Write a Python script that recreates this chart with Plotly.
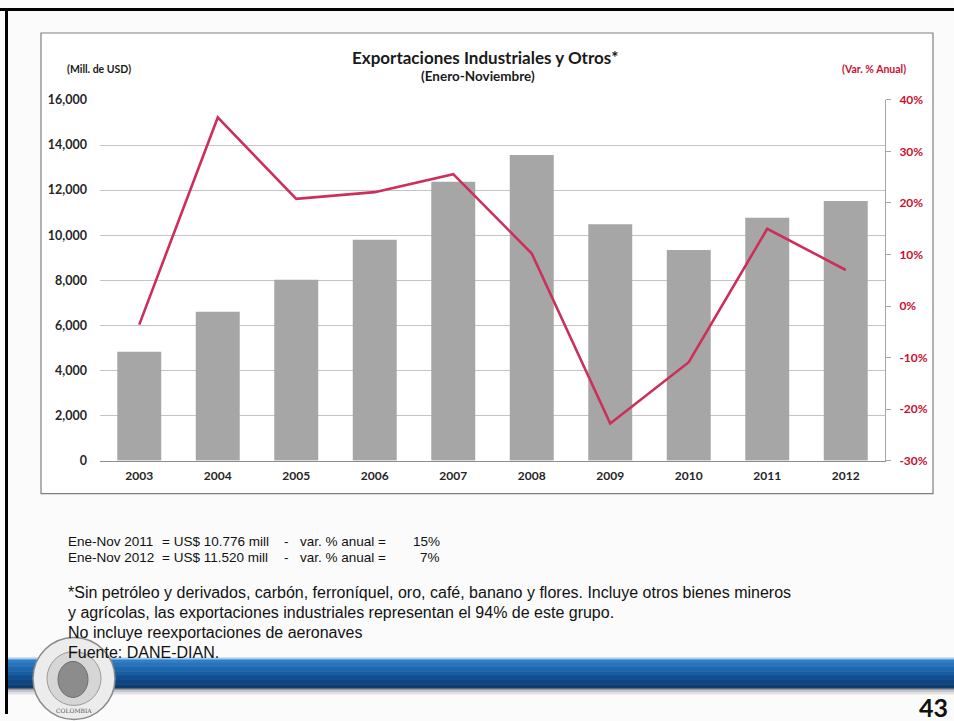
import plotly.graph_objects as go

# datos (Enero-Noviembre de cada año)
years = ["2003", "2004", "2005", "2006", "2007", "2008", "2009", "2010", "2011", "2012"]
exports_musd = [4830, 6600, 8020, 9800, 12370, 13560, 10490, 9340, 10776, 11520]
var_anual = [-3.6, 36.6, 20.8, 22.1, 25.6, 10.2, -22.8, -10.9, 15.0, 7.0]

pct_ticks = [-30, -20, -10, 0, 10, 20, 30, 40]

resumen_periodo = ["Ene-Nov 2011", "Ene-Nov 2012"]
resumen_valor = ["= US$ 10.776 mill", "= US$ 11.520 mill"]
resumen_var = ["15%", "7%"]

notas = [
    "*Sin petróleo y derivados, carbón, ferroníquel, oro, café, banano y flores. Incluye otros bienes mineros",
    "y agrícolas, las exportaciones industriales representan el 94% de este grupo.",
    "No incluye reexportaciones de aeronaves",
    "Fuente: DANE-DIAN.",
]

W, H = 954, 721
BAR = "#a6a6a6"
LINE = "#cc2f5a"
RED = "#c8102e"
CHART_FONT = "Lato, Open Sans, sans-serif"
TEXT_FONT = "Liberation Sans, Arial, sans-serif"


def px_x(x):
    return x / W


def px_y(y):
    # la captura desplaza ~7px hacia abajo y comprime ~2% en vertical; se compensa aqui
    return 1 - (y - 7) / 0.98 / H


fig = go.Figure()

fig.add_trace(go.Bar(
    x=years, y=exports_musd, marker_color=BAR, marker_line_width=0,
    name="Mill. de USD", hoverinfo="x+y",
))
fig.add_trace(go.Scatter(
    x=years, y=var_anual, yaxis="y2", mode="lines",
    line=dict(color=LINE, width=2.6), name="Var. % Anual",
))

shapes = []
# marco negro de la diapositiva (arriba e izquierda)
shapes.append(dict(type="rect", xref="paper", yref="paper",
                   x0=px_x(0), x1=px_x(W), y0=1 - 3 / H, y1=1,
                   fillcolor="black", line_width=0, layer="below"))
shapes.append(dict(type="rect", xref="paper", yref="paper",
                   x0=px_x(5), x1=px_x(8), y0=0, y1=1,
                   fillcolor="black", line_width=0, layer="below"))
# recuadro del grafico
shapes.append(dict(type="rect", xref="paper", yref="paper",
                   x0=px_x(41), x1=px_x(933), y0=px_y(493), y1=px_y(32),
                   fillcolor="white", line=dict(color="#7f7f7f", width=1.2), layer="below"))

# franja azul inferior (degradado con franjas)
blues = ["#2f7fc6", "#2873bb", "#1f67ad", "#195c9f", "#134f8f", "#0f4681", "#0b3c72"]
top, bot = 658, 688
step = (bot - top) / len(blues)
for i, c in enumerate(blues):
    shapes.append(dict(type="rect", xref="paper", yref="paper",
                       x0=px_x(8), x1=px_x(W),
                       y0=px_y(top + (i + 1) * step + 0.5), y1=px_y(top + i * step),
                       fillcolor=c, line_width=0, layer="below"))
shapes.append(dict(type="rect", xref="paper", yref="paper",
                   x0=px_x(8), x1=px_x(W), y0=px_y(659), y1=px_y(657),
                   fillcolor="#a9c9e8", line_width=0, layer="below"))
for i, c in enumerate(["#9a9a9a", "#c4c4c4", "#e2e2e2"]):
    shapes.append(dict(type="rect", xref="paper", yref="paper",
                       x0=px_x(8), x1=px_x(W), y0=px_y(690 + i * 2), y1=px_y(688 + i * 2),
                       fillcolor=c, line_width=0, layer="below"))

# sello del banco
shapes.append(dict(type="circle", xref="paper", yref="paper",
                   x0=px_x(33), x1=px_x(115), y0=px_y(719), y1=px_y(637),
                   fillcolor="#ececec", line=dict(color="#8a8a8a", width=1.5), layer="above"))
shapes.append(dict(type="circle", xref="paper", yref="paper",
                   x0=px_x(47), x1=px_x(101), y0=px_y(705), y1=px_y(651),
                   fillcolor="#d6d6d6", line=dict(color="#9a9a9a", width=1), layer="above"))
shapes.append(dict(type="circle", xref="paper", yref="paper",
                   x0=px_x(58), x1=px_x(88), y0=px_y(697), y1=px_y(661),
                   fillcolor="#8c8c8c", line=dict(color="#6d6d6d", width=1), layer="above"))

annotations = [
    dict(text="<b>Exportaciones Industriales y Otros*</b>", x=px_x(485), y=px_y(57),
         font=dict(family=CHART_FONT, size=17, color="#1a1a1a")),
    dict(text="<b>(Enero-Noviembre)</b>", x=px_x(478), y=px_y(75),
         font=dict(family=CHART_FONT, size=13.5, color="#1a1a1a")),
    dict(text="<b>(Mill. de USD)</b>", x=px_x(65), y=px_y(68), xanchor="left",
         font=dict(family=CHART_FONT, size=10.5, color="#1a1a1a")),
    dict(text="<b>(Var. % Anual)</b>", x=px_x(908), y=px_y(68), xanchor="right",
         font=dict(family=CHART_FONT, size=10.5, color=RED)),
    dict(text="<b>43</b>", x=px_x(950), y=px_y(707), xanchor="right",
         font=dict(family=CHART_FONT, size=25, color="#111111")),
    dict(text="COLOMBIA", x=px_x(74), y=px_y(710),
         font=dict(family="DejaVu Serif, serif", size=6, color="#555555")),
]
for a in annotations:
    a.setdefault("xanchor", "center")
    a.update(xref="paper", yref="paper", showarrow=False, yanchor="middle")

for i in range(len(resumen_periodo)):
    yy = px_y(541 + i * 16)
    for txt, xx, anc in [(resumen_periodo[i], 66, "left"), (resumen_valor[i], 160, "left"),
                         ("-", 282, "left"), ("var. % anual =", 298, "left"),
                         (resumen_var[i], 442, "right")]:
        annotations.append(dict(text=txt, x=px_x(xx), y=yy, xref="paper", yref="paper",
                                xanchor=anc, yanchor="middle", showarrow=False,
                                font=dict(family=TEXT_FONT, size=13.5, color="#111111")))

for i, linea in enumerate(notas):
    annotations.append(dict(text=linea, x=px_x(66), y=px_y(592 + i * 20),
                            xref="paper", yref="paper", xanchor="left", yanchor="middle",
                            showarrow=False,
                            font=dict(family=TEXT_FONT, size=16, color="#111111")))

fig.update_layout(
    width=W, height=H,
    margin=dict(l=0, r=0, t=0, b=0),
    paper_bgcolor="#fbfbfb",
    plot_bgcolor="white",
    showlegend=False,
    bargap=0.44,
    shapes=shapes,
    annotations=annotations,
    xaxis=dict(
        domain=[px_x(100), px_x(885)],
        type="category",
        showline=True, linecolor="#8c8c8c", linewidth=1,
        ticks="", showgrid=False,
        ticklabelstandoff=4,
        tickfont=dict(family=CHART_FONT, size=12, color="#262626", weight="bold"),
    ),
    yaxis=dict(
        domain=[px_y(460), px_y(99)],
        range=[0, 16000], dtick=2000, tickformat=",",
        showgrid=True, gridcolor="#c4c4c4", gridwidth=1,
        zeroline=False, showline=False, ticks="",
        ticklabelstandoff=12,
        tickfont=dict(family=CHART_FONT, size=12.5, color="#262626", weight="bold"),
    ),
    yaxis2=dict(
        overlaying="y", side="right", anchor="x",
        range=[-30, 40], tickmode="array", tickvals=pct_ticks,
        ticktext=[f"{v}%" for v in pct_ticks],
        showgrid=False, zeroline=False,
        showline=True, linecolor="#a6a6a6", linewidth=1,
        ticks="outside", ticklen=5, tickcolor="#a6a6a6",
        ticklabelstandoff=6,
        tickfont=dict(family=CHART_FONT, size=12, color=RED, weight="bold"),
    ),
)

fig.write_html(
    "out.html",
    config={"displayModeBar": False},
    post_script=(
        "document.documentElement.style.overflow='hidden';"
        "document.body.style.margin='0';document.body.style.overflow='hidden';"
        "var d=document.getElementById('{plot_id}');"
        "d.style.position='absolute';d.style.top='0px';d.style.left='0px';"
    ),
)
